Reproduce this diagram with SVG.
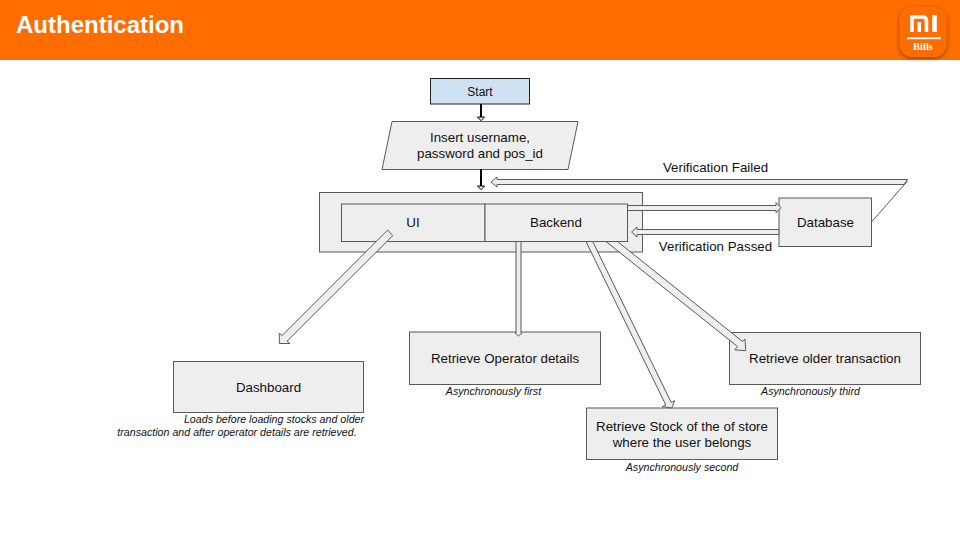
<svg xmlns="http://www.w3.org/2000/svg" width="960" height="540" viewBox="0 0 960 540">
<style>
.n{fill:#eeeeee;stroke:#595959;stroke-width:1}
.t{font-family:"Liberation Sans",Arial,sans-serif;font-size:13.33px;fill:#111;text-anchor:middle}
.i{font-family:"Liberation Sans",Arial,sans-serif;font-size:10.67px;font-style:italic;fill:#111;text-anchor:middle}
.a{fill:#eeeeee;stroke:#595959;stroke-width:1;stroke-linejoin:miter}
</style>
<defs>
<filter id="sh" x="-30%" y="-30%" width="160%" height="160%"><feDropShadow dx="0" dy="1.500" stdDeviation="2" flood-color="#000" flood-opacity="0.450"/></filter>
</defs>
<rect width="960" height="540" fill="#ffffff"/>
<g id="header">
<rect width="960" height="60" fill="#ff6d01"/>
<text x="16" y="33" font-family="'Liberation Sans',Arial,sans-serif" font-size="24" font-weight="bold" fill="#ffffff">Authentication</text>
</g>
<g id="logo">
<rect x="899.500" y="7" width="47" height="50" rx="13" fill="#ff6d01" filter="url(#sh)"/>
<path d="M912 32V17H922.500Q926.500 17 926.500 21V32M919.200 22V32" fill="none" stroke="#fff" stroke-width="3.600"/>
<path d="M934.500 15V32" fill="none" stroke="#fff" stroke-width="4.600"/>
<rect x="907" y="37.200" width="34" height="2" fill="#fff"/>
<text x="923" y="50" font-family="'Liberation Serif',serif" font-size="10.500" font-weight="bold" fill="#fff" text-anchor="middle">Bills</text>
</g>
<g id="container"><rect class="n" x="319.500" y="192.500" width="323" height="59.500"/></g>
<g id="ui"><rect class="n" x="341.500" y="204" width="143.500" height="37.500"/><text class="t" x="413" y="227">UI</text></g>
<g id="backend"><rect class="n" x="485" y="204" width="142.500" height="37.500"/><text class="t" x="556" y="227">Backend</text></g>
<g id="start"><rect x="430.500" y="78.500" width="99" height="25.500" fill="#cfe2f3" stroke="#222" stroke-width="1"/><text x="480" y="95.500" font-family="'Liberation Sans',Arial,sans-serif" font-size="12" fill="#111" text-anchor="middle">Start</text></g>
<g id="insert"><polygon class="n" points="392,121.500 578,121.500 568,169.500 382,169.500"/><text class="t" x="480" y="142">Insert username,</text><text class="t" x="480" y="158">password and pos_id</text></g>
<g id="database"><rect class="n" x="779" y="198" width="92.500" height="48.500"/><text class="t" x="825.500" y="227">Database</text></g>
<g id="dashboard"><rect class="n" x="173.500" y="361.500" width="190" height="51"/><text class="t" x="268.500" y="392">Dashboard</text><text class="i" x="274" y="423">Loads before loading stocks and older</text><text class="i" x="237" y="436">transaction and after operator details are retrieved.</text></g>
<g id="operator"><rect class="n" x="409.500" y="332" width="191" height="52.500"/><text class="t" x="505" y="363">Retrieve Operator details</text><text class="i" x="493.500" y="395">Asynchronously first</text></g>
<g id="older"><rect class="n" x="729.500" y="332.500" width="191" height="52"/><text class="t" x="825" y="363">Retrieve older transaction</text><text class="i" x="810.500" y="395">Asynchronously third</text></g>
<g id="stock"><rect class="n" x="586.500" y="408" width="191" height="51.500"/><text class="t" x="682" y="431">Retrieve Stock of the of store</text><text class="t" x="682" y="447">where the user belongs</text><text class="i" x="682" y="471">Asynchronously second</text></g>
<g id="connectors">
<path d="M481 104V117" stroke="#000" stroke-width="2" fill="none"/>
<polygon points="477.500,117 484.500,117 481,120.700" fill="#eee" stroke="#000" stroke-width="1"/>
<path d="M481 169V186" stroke="#000" stroke-width="2" fill="none"/>
<polygon points="477.500,186 484.500,186 481,189.700" fill="#fff" stroke="#000" stroke-width="1"/>
<polygon class="a" points="907.500,179.500 497,179.500 497,177 491,182 497,187 497,184.500 904,184.500"/>
<path d="M871.500 222L907.500 181" stroke="#595959" stroke-width="1" fill="none"/>
<polygon class="a" points="627.500,205.500 776,205.500 776,202.500 781,207.800 776,212.500 776,210.500 627.500,210.500"/>
<polygon class="a" points="779,229.500 637,229.500 637,227 631.500,232 637,237 637,234.500 779,234.500"/>
<polygon class="a" points="387.700,230 392.700,235.700 287.100,341.200 290,343.500 279.300,343.500 279.300,333.300 282.100,335.500"/>
<polygon class="a" points="516,241.500 521,241.500 521,333 522,333 518.500,336 515,333 516,333"/>
<polygon class="a" points="586,241.500 592.700,241.500 671.200,402.400 674.700,400.700 671.700,408 662.300,406.700 665.800,405"/>
<polygon class="a" points="606,241.500 617.500,241.500 742.500,341.500 745,339 745.700,350.700 734.800,349.800 737.500,346.500"/>
</g>
<g id="labels">
<text class="t" x="715.500" y="172">Verification Failed</text>
<text class="t" x="715.500" y="251">Verification Passed</text>
</g>
</svg>
